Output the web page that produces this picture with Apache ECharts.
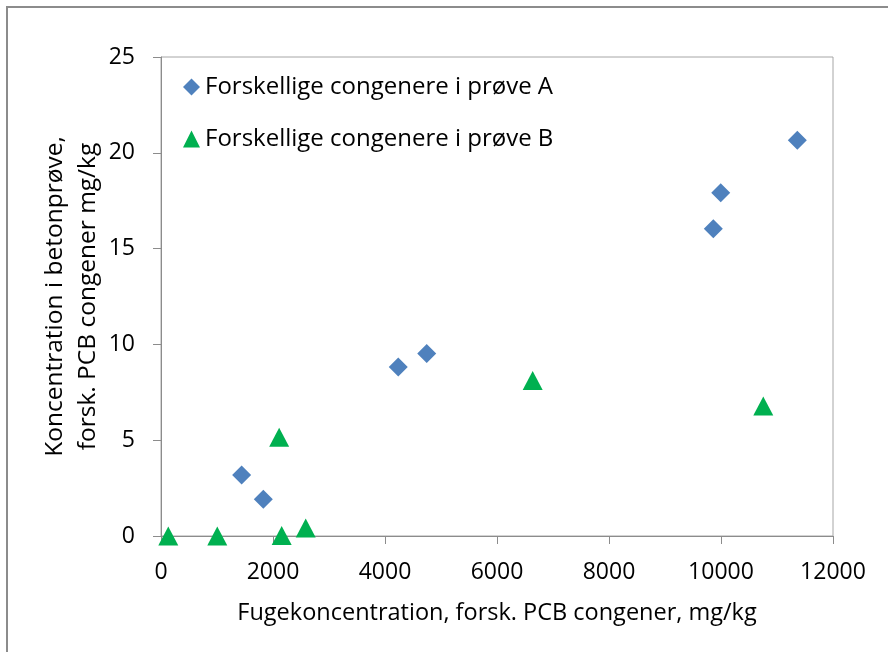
<!DOCTYPE html>
<html>
<head>
<meta charset="utf-8">
<title>PCB congenere</title>
<script src="https://cdn.jsdelivr.net/npm/echarts@6/dist/echarts.min.js"></script>
<style>
  html, body { margin: 0; padding: 0; background: #fff; }
  #chart { width: 888px; height: 652px; }
</style>
</head>
<body>
<div id="chart"></div>
<script>
// data
const seriesNames = ['Forskellige congenere i prøve A', 'Forskellige congenere i prøve B']
const fugeA = [1440, 1827, 4237, 4745, 9863, 9995, 11363]
const betonA = [3.18, 1.92, 8.82, 9.53, 16.04, 17.91, 20.66]
const fugeB = [130, 1005, 2110, 2155, 2584, 6637, 10755]
const betonB = [0, 0, 5.16, 0.03, 0.42, 8.12, 6.79]
const xTicks = { min: 0, max: 12000, step: 2000 }
const yTicks = { min: 0, max: 25, step: 5 }

const font = 'Open Sans'
const axisGray = '#8c8c8c'

function pairs(xs, ys) {
  return xs.map((x, i) => [x, ys[i]])
}

const chart = echarts.init(document.getElementById('chart'), null, { renderer: 'canvas' })

chart.setOption({
  backgroundColor: '#fff',
  animation: false,
  textStyle: { fontFamily: font, color: '#000' },
  graphic: [{
    // outer chart frame, cut off at the right and bottom
    type: 'rect',
    shape: { x: 7, y: 7, width: 1000, height: 1000 },
    style: { fill: null, stroke: axisGray, lineWidth: 2 },
    silent: true
  }],
  grid: {
    left: 161,
    top: 57,
    right: 55,
    bottom: 116,
    show: true,
    borderColor: '#a6a6a6',
    borderWidth: 1
  },
  legend: {
    orient: 'vertical',
    left: 183,
    top: 75,
    padding: 0,
    itemWidth: 17,
    itemHeight: 17,
    itemGap: 28,
    textStyle: { fontFamily: font, fontSize: 24, lineHeight: 24, color: '#000' },
    data: [
      { name: seriesNames[0], icon: 'diamond' },
      { name: seriesNames[1], icon: 'triangle' }
    ]
  },
  xAxis: {
    type: 'value',
    min: xTicks.min,
    max: xTicks.max,
    interval: xTicks.step,
    name: 'Fugekoncentration, forsk. PCB congener, mg/kg',
    nameLocation: 'middle',
    nameGap: 65,
    nameMoveOverlap: false,
    nameTextStyle: { fontFamily: font, fontSize: 23.5, color: '#000' },
    splitLine: { show: false },
    axisLine: { lineStyle: { color: axisGray } },
    axisTick: { show: true, length: 8, lineStyle: { color: axisGray } },
    axisLabel: { fontFamily: font, fontSize: 23, color: '#000', margin: 25, formatter: v => String(v) }
  },
  yAxis: {
    type: 'value',
    min: yTicks.min,
    max: yTicks.max,
    interval: yTicks.step,
    name: 'Koncentration i betonprøve,\nforsk. PCB congener mg/kg',
    nameLocation: 'middle',
    nameGap: 56,
    nameMoveOverlap: false,
    nameTextStyle: { fontFamily: font, fontSize: 24.5, lineHeight: 33, color: '#000' },
    splitLine: { show: false },
    axisLine: { show: true, lineStyle: { color: axisGray } },
    axisTick: { show: true, length: 8, lineStyle: { color: axisGray } },
    axisLabel: { fontFamily: font, fontSize: 23, color: '#000', margin: 26 }
  },
  series: [
    {
      name: seriesNames[0],
      type: 'scatter',
      symbol: 'diamond',
      symbolSize: [19, 19],
      itemStyle: { color: '#4f81bd', opacity: 1 },
      data: pairs(fugeA, betonA)
    },
    {
      name: seriesNames[1],
      type: 'scatter',
      symbol: 'triangle',
      symbolSize: [20, 19],
      itemStyle: { color: '#00b050', opacity: 1 },
      data: pairs(fugeB, betonB)
    }
  ]
})
</script>
</body>
</html>
